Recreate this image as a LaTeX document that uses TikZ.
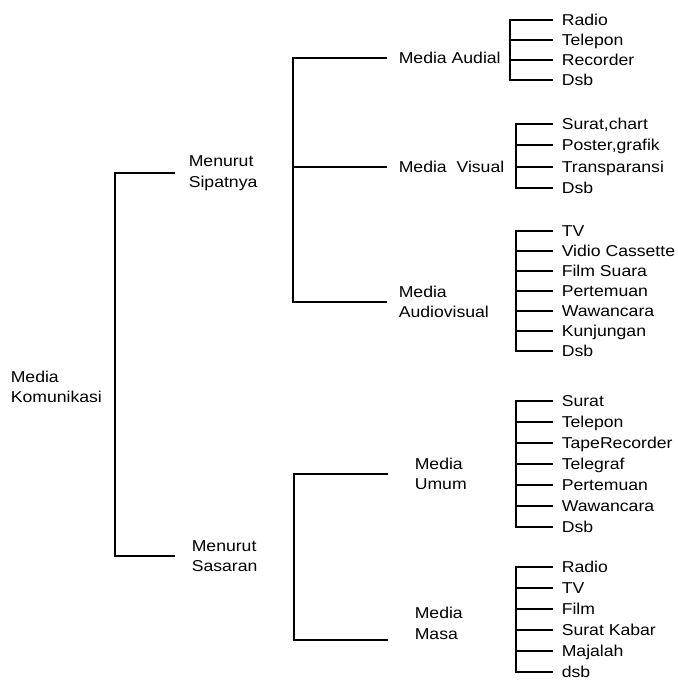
\documentclass[tikz,border=0pt]{standalone}
\usepackage{fontspec}
\setmainfont{Liberation Sans}[FakeStretch=1.12]

\begin{document}
\begin{tikzpicture}[x=0.75pt, y=-0.75pt, line width=1.2pt,
  every node/.style={font=\fontsize{11.8pt}{15.4pt}\selectfont},
  group/.style={anchor=west, align=left, inner sep=0pt},
  item/.style={anchor=west, inner xsep=6pt, inner ysep=0pt, text height=8.5pt, text depth=0pt}]

\useasboundingbox (0,0) rectangle (678,683);

% The root and the two ways to sort the media
\node[group] (root) at (10,387) {Media\\Komunikasi};
\node[group] (sip) at (188,173) {Menurut\\Sipatnya};
\node[group] (sas) at (191,556) {Menurut\\Sasaran};
\coordinate (rootbar) at (115,0);
\draw ([xshift=-10pt]sip.west) -| (rootbar |- sas.west) -- ([xshift=-12pt]sas.west);

% Menurut Sipatnya: three kinds of media
\node[group] (aud) at (398,58) {Media Audial};
\node[group] (vis) at (398,167) {Media~ Visual};
\node[group] (avis) at (398,302) {Media\\Audiovisual};
\coordinate (sipbar) at (293,0);
\draw ([xshift=-8pt]aud.west) -| (sipbar |- avis.west) -- ([xshift=-8pt]avis.west);
\draw (sipbar |- vis.west) -- ([xshift=-8pt]vis.west);

% Menurut Sasaran: two kinds of media
\node[group] (umum) at (414,474) {Media\\Umum};
\node[group, anchor=south west] (masa) at (414,640) {Media\\Masa};
\coordinate (sasbar) at (294,0);
\draw ([xshift=-19.5pt]umum.west) -| (sasbar |- masa.south west) -- ([xshift=-19.5pt]masa.south west);

% Media Audial
\node[item] (aud-radio) at (553,20) {Radio};
\node[item] (aud-telepon) at (553,40) {Telepon};
\node[item] (aud-recorder) at (553,60) {Recorder};
\node[item] (aud-dsb) at (553,80) {Dsb};
\coordinate (audbar) at (510,0);
\draw (aud-radio.west) -| (audbar |- aud-dsb.west) -- (aud-dsb.west);
\draw (audbar |- aud-telepon.west) -- (aud-telepon.west);
\draw (audbar |- aud-recorder.west) -- (aud-recorder.west);

% Media Visual
\node[item] (vis-surat) at (553,124) {Surat,chart};
\node[item] (vis-poster) at (553,145) {Poster,grafik};
\node[item] (vis-trans) at (553,167) {Transparansi};
\node[item] (vis-dsb) at (553,188) {Dsb};
\coordinate (visbar) at (516,0);
\draw (vis-surat.west) -| (visbar |- vis-dsb.west) -- (vis-dsb.west);
\draw (visbar |- vis-poster.west) -- (vis-poster.west);
\draw (visbar |- vis-trans.west) -- (vis-trans.west);

% Media Audiovisual
\node[item] (avis-tv) at (553,231) {TV};
\node[item] (avis-vidio) at (553,251) {Vidio Cassette};
\node[item] (avis-film) at (553,271) {Film Suara};
\node[item] (avis-temu) at (553,291) {Pertemuan};
\node[item] (avis-wawan) at (553,311) {Wawancara};
\node[item] (avis-kunjung) at (553,331) {Kunjungan};
\node[item] (avis-dsb) at (553,351) {Dsb};
\coordinate (avisbar) at (516,0);
\draw (avis-tv.west) -| (avisbar |- avis-dsb.west) -- (avis-dsb.west);
\draw (avisbar |- avis-vidio.west) -- (avis-vidio.west);
\draw (avisbar |- avis-film.west) -- (avis-film.west);
\draw (avisbar |- avis-temu.west) -- (avis-temu.west);
\draw (avisbar |- avis-wawan.west) -- (avis-wawan.west);
\draw (avisbar |- avis-kunjung.west) -- (avis-kunjung.west);

% Media Umum
\node[item] (umum-surat) at (553,401) {Surat};
\node[item] (umum-telepon) at (553,422) {Telepon};
\node[item] (umum-tape) at (553,443) {TapeRecorder};
\node[item] (umum-telegraf) at (553,464) {Telegraf};
\node[item] (umum-temu) at (553,485) {Pertemuan};
\node[item] (umum-wawan) at (553,506) {Wawancara};
\node[item] (umum-dsb) at (553,527) {Dsb};
\coordinate (umumbar) at (516,0);
\draw (umum-surat.west) -| (umumbar |- umum-dsb.west) -- (umum-dsb.west);
\draw (umumbar |- umum-telepon.west) -- (umum-telepon.west);
\draw (umumbar |- umum-tape.west) -- (umum-tape.west);
\draw (umumbar |- umum-telegraf.west) -- (umum-telegraf.west);
\draw (umumbar |- umum-temu.west) -- (umum-temu.west);
\draw (umumbar |- umum-wawan.west) -- (umum-wawan.west);

% Media Masa
\node[item] (masa-radio) at (553,567) {Radio};
\node[item] (masa-tv) at (553,588) {TV};
\node[item] (masa-film) at (553,609) {Film};
\node[item] (masa-koran) at (553,630) {Surat Kabar};
\node[item] (masa-majalah) at (553,651) {Majalah};
\node[item] (masa-dsb) at (553,672) {dsb};
\coordinate (masabar) at (516,0);
\draw (masa-radio.west) -| (masabar |- masa-dsb.west) -- (masa-dsb.west);
\draw (masabar |- masa-tv.west) -- (masa-tv.west);
\draw (masabar |- masa-film.west) -- (masa-film.west);
\draw (masabar |- masa-koran.west) -- (masa-koran.west);
\draw (masabar |- masa-majalah.west) -- (masa-majalah.west);

\end{tikzpicture}
\end{document}
